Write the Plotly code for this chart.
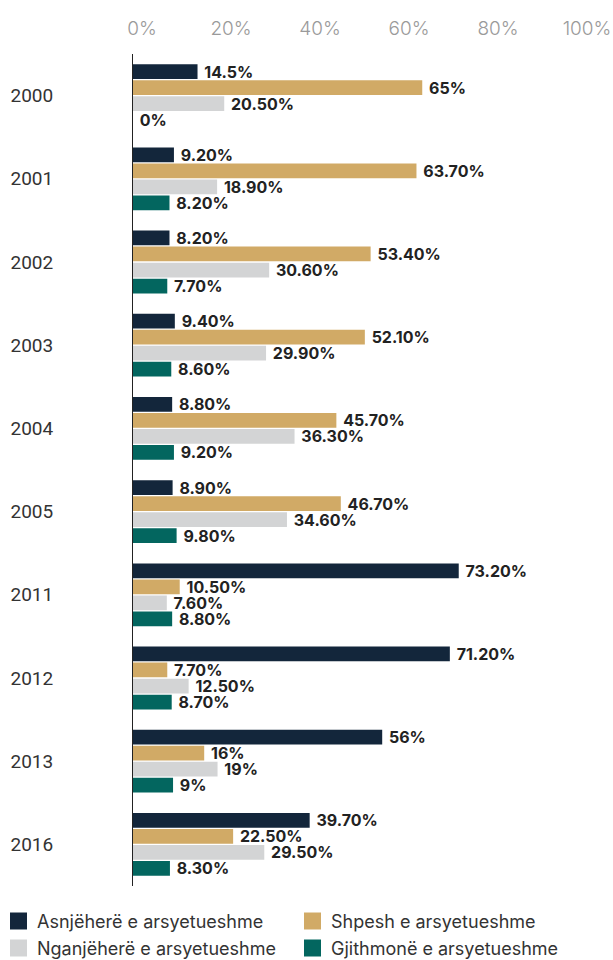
import plotly.graph_objects as go

# Survey years (categories) and the share of each answer, in percent
years = ["2000", "2001", "2002", "2003", "2004", "2005", "2011", "2012", "2013", "2016"]

asnjehere = [14.5, 9.2, 8.2, 9.4, 8.8, 8.9, 73.2, 71.2, 56.0, 39.7]
shpesh = [65.0, 63.7, 53.4, 52.1, 45.7, 46.7, 10.5, 7.7, 16.0, 22.5]
nganjehere = [20.5, 18.9, 30.6, 29.9, 36.3, 34.6, 7.6, 12.5, 19.0, 29.5]
gjithmone = [0.0, 8.2, 7.7, 8.6, 9.2, 9.8, 8.8, 8.7, 9.0, 8.3]

# Labels exactly as printed beside each bar
asnjehere_lbl = ["14.5%", "9.20%", "8.20%", "9.40%", "8.80%", "8.90%", "73.20%", "71.20%", "56%", "39.70%"]
shpesh_lbl = ["65%", "63.70%", "53.40%", "52.10%", "45.70%", "46.70%", "10.50%", "7.70%", "16%", "22.50%"]
nganjehere_lbl = ["20.50%", "18.90%", "30.60%", "29.90%", "36.30%", "34.60%", "7.60%", "12.50%", "19%", "29.50%"]
gjithmone_lbl = ["0%", "8.20%", "7.70%", "8.60%", "9.20%", "9.80%", "8.80%", "8.70%", "9%", "8.30%"]

series = [
    ("Asnjëherë e arsyetueshme", asnjehere, asnjehere_lbl, "#13263b"),
    ("Shpesh e arsyetueshme", shpesh, shpesh_lbl, "#d1aa66"),
    ("Nganjëherë e arsyetueshme", nganjehere, nganjehere_lbl, "#d3d4d5"),
    ("Gjithmonë e arsyetueshme", gjithmone, gjithmone_lbl, "#03665f"),
]

x_ticks = [0, 20, 40, 60, 80, 100]
x_tick_text = ["0%", "20%", "40%", "60%", "80%", "100%"]

W, H = 613, 960
M = dict(l=133, r=35, t=54, b=74)
plot_w = W - M["l"] - M["r"]
plot_h = H - M["t"] - M["b"]


def px_x(p):
    """Horizontal pixel position -> paper fraction."""
    return (p - M["l"]) / plot_w


def px_y(p):
    """Vertical pixel position (from top) -> paper fraction."""
    return (H - M["b"] - p) / plot_h


fig = go.Figure()
for name, values, labels, color in series:
    fig.add_trace(go.Bar(
        name=name,
        y=years,
        x=values,
        orientation="h",
        marker=dict(color=color, line=dict(width=0)),
        text=["\u00a0" + t for t in labels],
        textposition="outside",
        constraintext="none",
        cliponaxis=False,
        textfont=dict(family="Inter", size=16, color="#222222", weight="bold"),
        hoverinfo="skip",
        showlegend=False,
    ))

# Two-column key below the chart: coloured square + series name
shapes = []
annotations = []
col_left = [10, 304]
row_mid = [921, 948]
sq = 17
for i, (name, _, _, color) in enumerate(series):
    cx = col_left[i % 2]
    cy = row_mid[i // 2]
    shapes.append(dict(
        type="rect", xref="paper", yref="paper",
        x0=px_x(cx), x1=px_x(cx + sq),
        y0=px_y(cy + sq / 2), y1=px_y(cy - sq / 2),
        fillcolor=color, line=dict(width=0), layer="above",
    ))
    annotations.append(dict(
        xref="paper", yref="paper",
        x=px_x(cx + 25), y=px_y(cy),
        xanchor="left", yanchor="middle",
        text=name, showarrow=False,
        font=dict(family="Inter", size=18, color="#333333"),
    ))

fig.update_layout(
    width=W,
    height=H,
    margin=dict(l=M["l"], r=M["r"], t=M["t"], b=M["b"], autoexpand=False),
    paper_bgcolor="white",
    plot_bgcolor="white",
    barmode="group",
    bargap=0.23,
    bargroupgap=0.08,
    showlegend=False,
    shapes=shapes,
    annotations=annotations,
    xaxis=dict(
        side="top",
        range=[0, 100],
        tickvals=x_ticks,
        ticktext=x_tick_text,
        tickfont=dict(family="Inter", size=19, color="#9a9a9a", weight=300),
        ticklabelshift=9,
        ticklabelstandoff=14,
        showgrid=False,
        zeroline=False,
        showline=False,
        ticks="",
        fixedrange=True,
    ),
    yaxis=dict(
        autorange="reversed",
        type="category",
        tickfont=dict(family="Roboto", size=19, color="#333333"),
        ticklabelstandoff=75,
        showgrid=False,
        zeroline=False,
        showline=True,
        linecolor="#222222",
        linewidth=1,
        ticks="",
        fixedrange=True,
    ),
)

fig.write_html("out.html")
